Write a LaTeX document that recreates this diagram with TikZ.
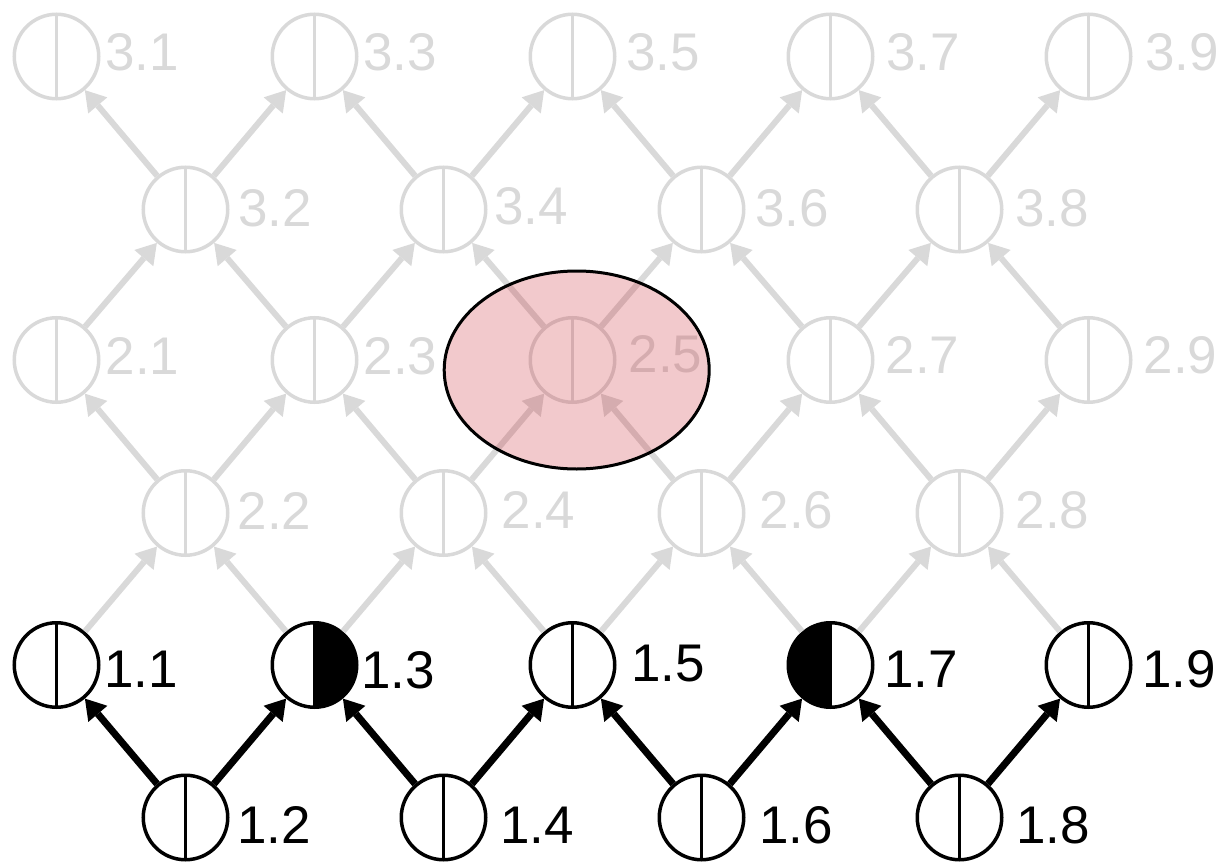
\documentclass[tikz,border=0pt]{standalone}
\usepackage{fontspec}
\setmainfont{Liberation Sans}
\usetikzlibrary{arrows.meta,shapes.geometric}
\definecolor{lgray}{HTML}{D9D9D9}
\definecolor{pinkfill}{RGB}{205,40,50}
\tikzset{
  unitbase/.style={circle, minimum size=84.5pt, inner sep=0pt, line width=3.5pt, fill=white},
  grayunit/.style={unitbase, draw=lgray,
    path picture={\draw[lgray, line width=3.5pt] (path picture bounding box.north) -- (path picture bounding box.south);}},
  blackunit/.style={unitbase, draw=black,
    path picture={\draw[black, line width=3.5pt] (path picture bounding box.north) -- (path picture bounding box.south);}},
  rightblack/.style={unitbase, draw=black,
    path picture={\fill[black] (path picture bounding box.north) rectangle (path picture bounding box.south east);
                  \draw[black, line width=3.5pt] (path picture bounding box.north) -- (path picture bounding box.south);}},
  leftblack/.style={unitbase, draw=black,
    path picture={\fill[black] (path picture bounding box.north) rectangle (path picture bounding box.south west);
                  \draw[black, line width=3.5pt] (path picture bounding box.north) -- (path picture bounding box.south);}},
  lab/.style={anchor=base west, inner sep=0pt, font=\fontsize{53}{60}\selectfont},
  graylab/.style={lab, text=lgray},
  blackedge/.style={draw=black, line width=7pt, -{Triangle[length=20pt,width=25pt,line width=0pt]}},
  grayedge/.style={draw=lgray, line width=6pt, -{Triangle[length=20pt,width=25pt,line width=0pt]}},
  hilite/.style={ellipse, draw=black, line width=3pt, fill=pinkfill, fill opacity=0.25,
    minimum width=265pt, minimum height=198pt, inner sep=0pt}
}
\begin{document}
\begin{tikzpicture}[x=1pt,y=-1pt]
\useasboundingbox (0,0) rectangle (1224,864);
% gray nodes, levels 2 and 3
\foreach \k in {1,3,5,7,9} {
  \node[grayunit] (n3-\k) at ({56.5+129*(\k-1)},56.5) {};
  \node[grayunit] (n2-\k) at ({56.5+129*(\k-1)},360) {};
}
\foreach \k in {2,4,6,8} {
  \node[grayunit] (n3-\k) at ({56.5+129*(\k-1)},209.5) {};
  \node[grayunit] (n2-\k) at ({56.5+129*(\k-1)},513) {};
}
% level 1 nodes
\node[blackunit]  (n1-1) at (56.5,665) {};
\node[rightblack] (n1-3) at (314.5,665) {};
\node[blackunit]  (n1-5) at (572.5,665) {};
\node[leftblack]  (n1-7) at (830.5,665) {};
\node[blackunit]  (n1-9) at (1088.5,665) {};
\foreach \k in {2,4,6,8} {
  \node[blackunit] (n1-\k) at ({56.5+129*(\k-1)},817.5) {};
}
% labels
\foreach \id/\t/\x/\y in {31/3.1/104.8/70.5, 33/3.3/362.8/70.5, 35/3.5/625.8/70.5, 37/3.7/885.8/70.5, 39/3.9/1144.8/70.5,
  32/3.2/237.8/226.5, 34/3.4/493.8/224.5, 36/3.6/754.8/226.5, 38/3.8/1014.8/226.5,
  21/2.1/105.4/374.5, 23/2.3/363.4/374.5, 25/2.5/628.4/372.5, 27/2.7/885.4/373.5, 29/2.9/1143.4/373.5,
  22/2.2/237.4/529.5, 24/2.4/501.4/528.5, 26/2.6/759.4/528.5, 28/2.8/1015.4/528.5} {
  \node[graylab] (l\id) at (\x,\y) {\t};
}
\foreach \id/\t/\x/\y in {11/1.1/104.2/687, 13/1.3/361.2/688, 15/1.5/631.2/681, 17/1.7/884.2/687, 19/1.9/1142.2/687,
  12/1.2/237.2/843, 14/1.4/500.2/843, 16/1.6/759.2/843, 18/1.8/1016.2/843} {
  \node[lab] (l\id) at (\x,\y) {\t};
}
% edges within levels
\foreach \a/\b in {2/1,2/3,4/3,4/5,6/5,6/7,8/7,8/9} {
  \draw[blackedge] (n1-\a) -- (n1-\b);
  \draw[grayedge] (n2-\a) -- (n2-\b);
  \draw[grayedge] (n3-\a) -- (n3-\b);
}
% edges between levels
\foreach \a/\b in {1/2,3/2,3/4,5/4,5/6,7/6,7/8,9/8} {
  \draw[grayedge] (n1-\a) -- (n2-\b);
  \draw[grayedge] (n2-\a) -- (n3-\b);
}
% highlight ellipse
\node[hilite] (hl) at (576.7,370) {};
\end{tikzpicture}
\end{document}
